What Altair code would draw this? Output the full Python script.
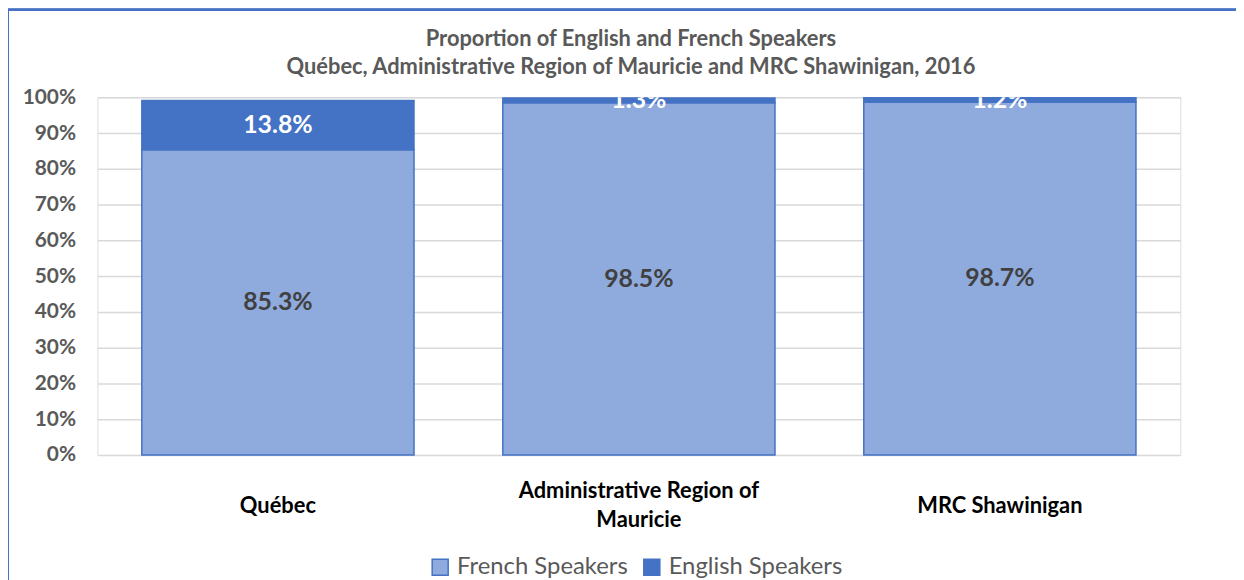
import altair as alt
import pandas as pd

categories = ["Québec", "Administrative Region of Mauricie", "MRC Shawinigan"]
series = ["French Speakers", "English Speakers"]
french = [85.3, 98.5, 98.7]
english = [13.8, 1.3, 1.2]

rows = []
for c, f, e in zip(categories, french, english):
    rows.append({"cat": c, "series": series[0], "value": f, "ord": 0, "mid": f / 2})
    rows.append({"cat": c, "series": series[1], "value": e, "ord": 1, "mid": f + e / 2})
df = pd.DataFrame(rows)

FONT = "Lato"
DARK = "#4472C4"
LIGHT = "#8FAADC"
W, H = 1090, 360
LONG = "Administrative Region of Mauricie"

x_axis = alt.Axis(
    labelAngle=0, labelFont=FONT, labelFontSize=22, labelFontWeight="bold",
    labelColor="#000000",
    labelBaseline={"condition": {"test": f"datum.value == '{LONG}'", "value": "line-bottom"}, "value": "middle"},
    labelPadding=51, labelLineHeight=29, ticks=False, domain=False, grid=False,
    labelLimit=400,
    labelExpr=f"datum.label == '{LONG}' ? ['Administrative Region of', 'Mauricie'] : datum.label",
)
x_scale = alt.Scale(paddingInner=0.246, paddingOuter=0.123)

y_axis = alt.Axis(
    values=list(range(0, 101, 10)), labelExpr="datum.value + '%'",
    labelFont=FONT, labelFontSize=21, labelFontWeight="bold",
    labelColor="#595959", labelPadding=22, ticks=False, domain=False,
    gridColor="#D9D9D9", gridWidth=1.5, labelOverlap=False,
)
y_scale = alt.Scale(domain=[0, 100], nice=False)

bars = alt.Chart(df).mark_bar(stroke=DARK, strokeWidth=1.5).encode(
    x=alt.X("cat:N", sort=categories, title=None, scale=x_scale, axis=x_axis),
    y=alt.Y("value:Q", stack="zero", title=None, scale=y_scale, axis=y_axis),
    color=alt.Color(
        "series:N", sort=series, title=None,
        scale=alt.Scale(domain=series, range=[LIGHT, DARK]),
        legend=alt.Legend(
            orient="none", legendX=333, legendY=461, direction="horizontal",
            symbolType="square", symbolSize=260, symbolStrokeColor=DARK,
            symbolStrokeWidth=1.5, symbolOpacity=1,
            labelFont=FONT, labelFontSize=24, labelColor="#595959",
            labelOffset=5, columnPadding=12, labelLimit=400,
        ),
    ),
    order=alt.Order("ord:Q"),
)

labels = alt.Chart(df).transform_calculate(
    label="format(datum.value, '.1f') + '%'"
).mark_text(font=FONT, fontSize=25, fontWeight="bold", baseline="middle", clip=True).encode(
    x=alt.X("cat:N", sort=categories, title=None, scale=x_scale, axis=x_axis),
    y=alt.Y("mid:Q", title=None, scale=y_scale, axis=y_axis),
    text="label:N",
    color=alt.Color("series:N", scale=alt.Scale(domain=series, range=["#404040", "#FFFFFF"]), legend=None),
)

border_top = alt.Chart(df).mark_rule(color=DARK, strokeWidth=2).encode(
    x=alt.value(-90), x2=alt.value(1170), y=alt.value(-88)
)
border_left = alt.Chart(df).mark_rule(color=DARK, strokeWidth=2).encode(
    x=alt.value(-90), y=alt.value(-88), y2=alt.value(490)
)

chart = alt.layer(bars, labels, border_top, border_left).resolve_scale(color="independent").properties(
    width=W, height=H,
    title=alt.TitleParams(
        ["Proportion of English and French Speakers",
         "Québec, Administrative Region of Mauricie and MRC Shawinigan, 2016"],
        font=FONT, fontSize=22, fontWeight="bold", color="#595959",
        anchor="middle", dx=-8, lineHeight=29, offset=-71,
    ),
    autosize=alt.AutoSizeParams(type="none"),
    padding={"left": 90, "top": 88, "right": 56, "bottom": 124},
).configure_view(stroke="#D9D9D9", strokeWidth=1.5).configure(background="white")

chart.save("out.html", embed_options={"renderer": "svg", "actions": False})
